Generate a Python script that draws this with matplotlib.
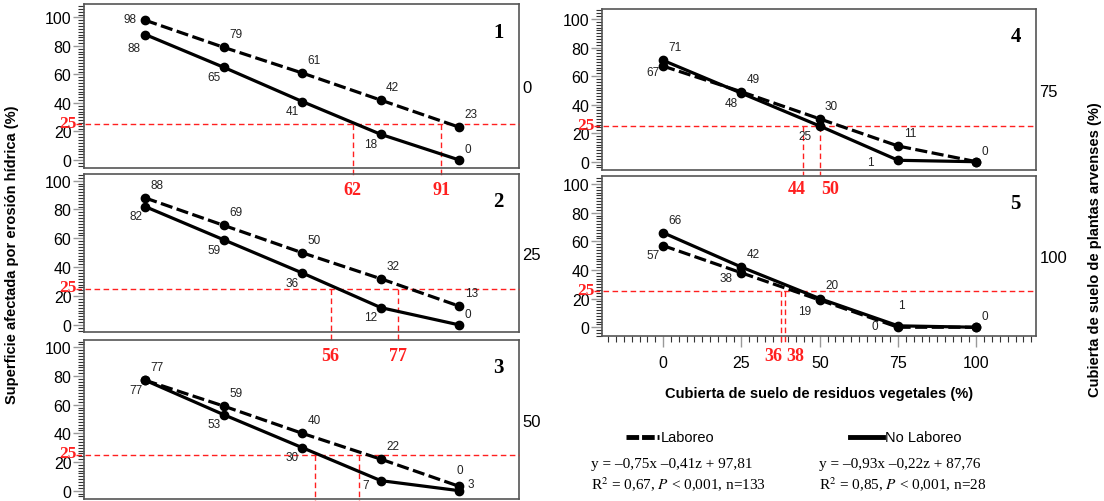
import matplotlib
matplotlib.use("Agg")
import matplotlib.pyplot as plt
from matplotlib.lines import Line2D
from matplotlib.ticker import MultipleLocator, NullLocator

plt.rcParams['font.family'] = ['Liberation Sans', 'DejaVu Sans']
plt.rcParams['mathtext.fontset'] = 'stix'

# --- data ---
cover = [0, 25, 50, 75, 100]          # residue cover (%)
weed_cover = ["0", "25", "50", "75", "100"]   # weed cover per panel (%)

laboreo_1 = [98, 79, 61, 42, 23]
no_laboreo_1 = [88, 65, 41, 18, 0]
laboreo_2 = [88, 69, 50, 32, 13]
no_laboreo_2 = [82, 59, 36, 12, 0]
laboreo_3 = [77, 59, 40, 22, 3]
no_laboreo_3 = [77, 53, 30, 7, 0]
laboreo_4 = [67, 49, 30, 11, 0]
no_laboreo_4 = [71, 48, 25, 1, 0]
laboreo_5 = [57, 38, 19, 0, 0]
no_laboreo_5 = [66, 42, 20, 1, 0]

threshold = 25
cross_x = [[66, 94.3], [59, 80.6], [54, 68], [44.8, 50.2], [37.5, 39]]
cross_labels = [["62", "91"], ["56", "77"], [], ["44", "50"], ["36", "38"]]

laboreo = [laboreo_1, laboreo_2, laboreo_3, laboreo_4, laboreo_5]
no_laboreo = [no_laboreo_1, no_laboreo_2, no_laboreo_3, no_laboreo_4, no_laboreo_5]

# --- layout (pixels of a 1104x502 canvas) ---
W, H = 1104, 502
boxes = [(84, 5, 519, 169), (84, 175, 519, 333), (84, 341, 519, 500),
         (602, 10, 1036, 171), (602, 177, 1036, 337)]
ylims = [(-5.6, 109.4), (-4.9, 104.6), (-5.8, 105.1), (-5.8, 107), (-6.1, 105.6)]
vline_bottom = [-11.3, -11.8, -7.5, -9.3, -10.3]
red_label_y = [-21, -21.5, None, -19, -20]
split_labels = [False, False, False, True, True]

up = (8.5, 9.5)
down = (-7, -7)
overrides = {
    (0, 'L', 0): (-11, 1), (0, 'N', 0): (-8, -10), (0, 'N', 4): (6, 8),
    (1, 'N', 4): (6, 8),
    (2, 'L', 4): (8, 2), (2, 'N', 4): (0, 15), (2, 'N', 3): (-11, -3),
    (3, 'L', 0): (-7, -4), (3, 'N', 2): (-11, -7), (3, 'N', 3): (-20, -1),
    (3, 'L', 4): None, (3, 'N', 4): (6, 8),
    (4, 'L', 1): (-11, -4), (4, 'L', 2): (-11, -8), (4, 'N', 3): (2, 15),
    (4, 'L', 3): (-17, 1), (4, 'L', 4): None, (4, 'N', 4): (6, 8),
}

RED = '#ff2020'
SERIF = 'Liberation Serif'

fig = plt.figure(figsize=(W / 100, H / 100), dpi=100)

for p in range(5):
    l, t, r, b = boxes[p]
    ax = fig.add_axes([l / W, 1 - b / H, (r - l) / W, (b - t) / H])
    ax.patch.set_alpha(0)
    ax.set_xlim(-19.5, 119)
    ax.set_ylim(*ylims[p])

    L = laboreo[p]
    N = no_laboreo[p]
    ax.plot(cover, N, color='black', lw=2.3, marker='o', ms=6, zorder=4)
    ax.plot(cover, L, color='black', lw=2.3, marker='o', ms=6,
            linestyle=(0, (3.8, 1.4)), zorder=5)

    # point labels
    for i, x in enumerate(cover):
        for key, vals, other in (('L', L, N), ('N', N, L)):
            v = vals[i]
            if key == 'L':
                off = up if v >= other[i] else down
            else:
                off = up if v > other[i] else down
            off = overrides.get((p, key, i), off)
            if off is None:
                continue
            ax.annotate(str(v), (x, v), xytext=off, textcoords='offset points',
                        ha='center', va='center', fontsize=8.5, color='#222222',
                        zorder=6)

    # 25 % threshold
    ax.plot([-0.018, 1], [threshold, threshold], transform=ax.get_yaxis_transform(),
            color=RED, lw=1, linestyle=(0, (4, 2.5)), clip_on=False, zorder=3)
    ax.text(-0.018, threshold + 1, "25", transform=ax.get_yaxis_transform(),
            ha='right', va='center', color=RED, fontsize=12.5, fontweight='bold',
            family=SERIF)
    for j, xc in enumerate(cross_x[p]):
        ax.plot([xc, xc], [threshold, vline_bottom[p]], color=RED, lw=1,
                linestyle=(0, (4, 2.5)), clip_on=False, zorder=3)
    labs = cross_labels[p]
    if labs:
        if split_labels[p]:
            ax.text(cross_x[p][0] + 0.6, red_label_y[p], labs[0], ha='right', va='center',
                    color=RED, fontsize=13, fontweight='bold', family=SERIF)
            ax.text(cross_x[p][1] + 0.2, red_label_y[p], labs[1], ha='left', va='center',
                    color=RED, fontsize=13, fontweight='bold', family=SERIF)
        else:
            for xc, lab in zip(cross_x[p], labs):
                ax.text(xc, red_label_y[p], lab, ha='center', va='center', color=RED,
                        fontsize=13, fontweight='bold', family=SERIF)

    # panel number and weed cover
    ax.text(0.953, 0.83, str(p + 1), transform=ax.transAxes, ha='center', va='center',
            fontsize=15, fontweight='bold', family=SERIF)
    ax.text(1.008, 0.49, weed_cover[p], transform=ax.transAxes, ha='left', va='center',
            fontsize=12)

    # axes styling
    for s in ax.spines.values():
        s.set_color('#555555')
        s.set_linewidth(1.2)
    ax.yaxis.set_major_locator(MultipleLocator(20))
    ax.yaxis.set_minor_locator(MultipleLocator(2))
    ax.tick_params(axis='y', which='major', length=8, width=1, color='#999999',
                   labelsize=11.5, pad=1)
    ax.tick_params(axis='y', which='minor', length=4.5, width=0.8, color='#333333')
    if p == 4:
        ax.set_xticks(cover)
        ax.xaxis.set_minor_locator(MultipleLocator(2.5))
        ax.tick_params(axis='x', which='major', length=8, width=1, color='#999999',
                       labelsize=11.5, pad=6)
        ax.tick_params(axis='x', which='minor', length=4.5, width=0.8, color='#333333')
    else:
        ax.xaxis.set_major_locator(NullLocator())
        ax.xaxis.set_minor_locator(NullLocator())

# axis titles
fig.text(12 / W, 1 - 255 / H, "Superficie afectada por erosión hídrica (%)", rotation=90,
         ha='center', va='center', fontsize=10.5, fontweight='bold')
fig.text(1095 / W, 1 - 250 / H, "Cubierta de suelo de plantas arvenses (%)", rotation=90,
         ha='center', va='center', fontsize=10.5, fontweight='bold')
fig.text(819 / W, 1 - 394 / H, "Cubierta de suelo de residuos vegetales (%)",
         ha='center', va='center', fontsize=10.5, fontweight='bold')

# legend
fig.add_artist(Line2D([626 / W, 659 / W], [1 - 438 / H] * 2, color='black', lw=3.5,
                      linestyle=(0, (2.6, 0.6))))
fig.text(661 / W, 1 - 438 / H, "Laboreo", ha='left', va='center', fontsize=10.5)
fig.add_artist(Line2D([850 / W, 883 / W], [1 - 438 / H] * 2, color='black', lw=3.5))
fig.text(885 / W, 1 - 438 / H, "No Laboreo", ha='left', va='center', fontsize=10.5)

fig.text(591 / W, 1 - 465 / H, "y = –0,75x –0,41z + 97,81", ha='left', va='center',
         fontsize=11, family=SERIF)
fig.text(591 / W, 1 - 485 / H, "R$^2$ = 0,67, $P$ < 0,001, n=133", ha='left', va='center',
         fontsize=11, family=SERIF)
fig.text(819 / W, 1 - 465 / H, "y = –0,93x –0,22z + 87,76", ha='left', va='center',
         fontsize=11, family=SERIF)
fig.text(819 / W, 1 - 485 / H, "R$^2$ = 0,85, $P$ < 0,001, n=28", ha='left', va='center',
         fontsize=11, family=SERIF)

fig.savefig("out.png", dpi=100)
